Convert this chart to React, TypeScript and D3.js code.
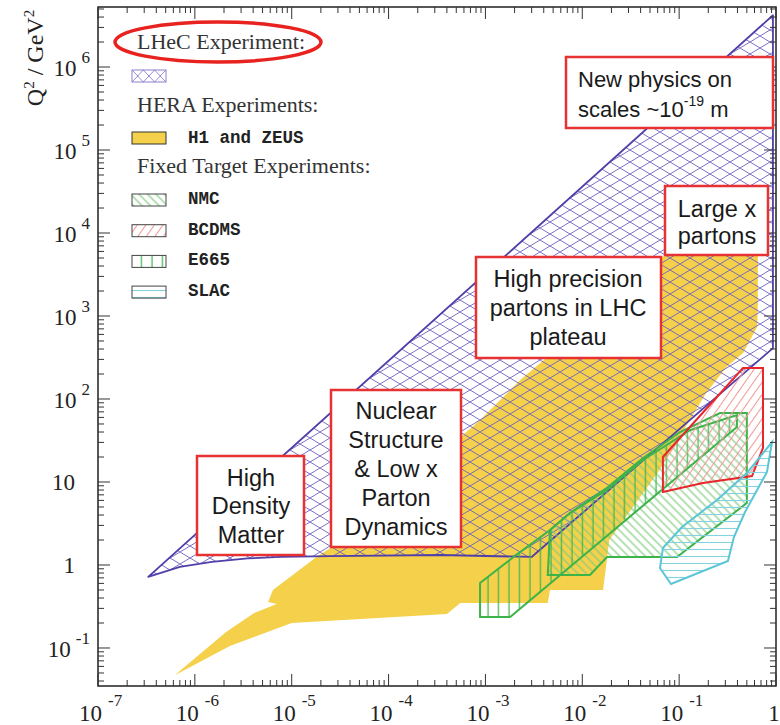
import React from "react";
import * as d3 from "d3";

const width = 780;
const height = 725;
const frame = { left: 98, right: 776, top: 7, bottom: 686 };

// kinematic regions: Bjorken x and Q^2 / GeV^2
const lhecX = [3.3e-7, 0.93, 0.93, 3.0e-3, 3.4e-4, 2.5e-5, 7.6e-6, 3.5e-6, 1.5e-6, 7.0e-7];
const lhecQ2 = [0.72, 4.2e6, 410, 1.25, 1.32, 1.28, 1.25, 1.2, 1.09, 0.95];

const heraX = [
  6.2e-7, 2.1e-6, 4.1e-6, 7.0e-6, 5.7e-6, 6.4e-6, 1.8e-5, 2.5e-5, 1.3e-4, 8.8e-4, 2.3e-3,
  1.5e-2, 7.7e-2, 0.65, 0.65, 0.64, 0.46, 0.31, 0.19, 6.3e-2, 1.9e-2, 1.64e-2, 4.65e-3,
  4.4e-3, 5.5e-4, 4.0e-4, 1.0e-5, 2.3e-6,
];
const heraQ2 = [
  0.047, 0.156, 0.264, 0.34, 0.358, 0.5, 1.25, 1.6, 8.0, 56, 170, 1090, 5900, 5900, 1430,
  740, 360, 245, 118, 14, 2.0, 0.5, 0.5, 0.348, 0.348, 0.257, 0.2, 0.106,
];

const nmcX = [4.65e-3, 4.4e-3, 1.2e-2, 1.8e-2, 9.5e-2, 0.5, 0.5, 0.264, 0.102, 4.24e-2, 1.8e-2, 7.46e-3];
const nmcQ2 = [2.64, 0.758, 0.758, 1.25, 1.25, 5.58, 67.8, 67.8, 40, 19.5, 8.5, 4.23];

const e665X = [8.8e-4, 8.8e-4, 1.8e-3, 0.395, 0.395, 0.129, 4.24e-2, 1.8e-2, 7.46e-3, 4.65e-3, 1.88e-3];
const e665Q2 = [0.607, 0.236, 0.236, 46, 64, 42, 18.4, 8.0, 4.23, 2.64, 1.21];

const bcdmsX = [6.8e-2, 0.456, 0.734, 0.734, 0.565, 0.176, 6.8e-2];
const bcdmsQ2 = [20, 236, 236, 25.7, 11.8, 9.7, 7.6];

const slacX = [0.91, 0.807, 0.479, 0.368, 0.319, 8.24e-2, 6.34e-2, 6.8e-2, 0.107, 0.246, 0.5];
const slacQ2 = [30.3, 13.2, 4.35, 2.17, 1.12, 0.59, 0.92, 1.6, 2.87, 6.07, 12.8];

const xTickExps = [-7, -6, -5, -4, -3, -2, -1, 0];
const yTickExps = [-1, 0, 1, 2, 3, 4, 5, 6];

const legendHeaders = ["LHeC Experiment:", "HERA Experiments:", "Fixed Target Experiments:"];
const heraName = "H1 and ZEUS";
const fixedNames = ["NMC", "BCDMS", "E665", "SLAC"];
const fixedFills = ["url(#hNmc)", "url(#hBcdms)", "url(#hE665)", "url(#hSlac)"];

const sans = "'Liberation Sans', Arial, sans-serif";
const serif = "'Liberation Serif', 'Times New Roman', serif";
const mono = "'Liberation Mono', 'Courier New', monospace";

type Seg = { t: string; sup?: boolean };
const boxes: { x0: number; y0: number; x1: number; y1: number; tx: number; anchor: string; size: number; base: number[]; lines: Seg[][] }[] = [
  { x0: 566, y0: 57, x1: 773, y1: 128, tx: 578, anchor: "start", size: 22, base: [87, 117],
    lines: [[{ t: "New physics on" }], [{ t: "scales ~10" }, { t: "-19", sup: true }, { t: " m" }]] },
  { x0: 665, y0: 186, x1: 768, y1: 255, tx: 717, anchor: "middle", size: 23.5, base: [217, 244],
    lines: [[{ t: "Large x" }], [{ t: "partons" }]] },
  { x0: 476, y0: 257, x1: 661, y1: 358, tx: 568, anchor: "middle", size: 23.5, base: [287, 316, 345],
    lines: [[{ t: "High precision" }], [{ t: "partons in LHC" }], [{ t: "plateau" }]] },
  { x0: 331, y0: 390, x1: 461, y1: 547, tx: 396, anchor: "middle", size: 23.5, base: [419, 448, 477, 506, 535],
    lines: [[{ t: "Nuclear" }], [{ t: "Structure" }], [{ t: "& Low x" }], [{ t: "Parton" }], [{ t: "Dynamics" }]] },
  { x0: 197, y0: 456, x1: 304, y1: 555, tx: 251, anchor: "middle", size: 23.5, base: [486, 514, 543],
    lines: [[{ t: "High" }], [{ t: "Density" }], [{ t: "Matter" }]] },
];

export default function App() {
  const x = d3.scaleLog().domain([1e-7, 1]).range([frame.left, frame.right]);
  const y = d3.scaleLog().domain([10 ** -1.458, 10 ** 6.723]).range([frame.bottom, frame.top]);

  const line = d3.line<[number, number]>().x((d) => x(d[0])).y((d) => y(d[1]));
  const poly = (xs: number[], qs: number[]) => line(d3.zip(xs, qs) as [number, number][]) + "Z";

  const xMinor: number[] = [];
  xTickExps.forEach((e) => d3.range(2, 10).forEach((m) => { const v = m * 10 ** e; if (v < 1) xMinor.push(v); }));
  const [ylo, yhi] = y.domain();
  const yMinor: number[] = [];
  d3.range(-2, 7).forEach((e) => d3.range(2, 10).forEach((m) => { const v = m * 10 ** e; if (v > ylo && v < yhi) yMinor.push(v); }));

  const tickColor = "#333";

  return (
    <svg width={width} height={height} style={{ position: "absolute", left: 0, top: 0, background: "#fff" }}>
      <defs>
        <pattern id="hLhec" patternUnits="userSpaceOnUse" width={20} height={12}>
          <path d="M0,0L20,12M0,12L20,0" stroke="#6c60c0" strokeWidth={0.9} fill="none" />
        </pattern>
        <pattern id="hLhecSmall" patternUnits="userSpaceOnUse" width={11.3} height={12} x={132} y={70}>
          <path d="M0,0L11.3,12M0,12L11.3,0" stroke="#8a80d0" strokeWidth={0.9} fill="none" />
        </pattern>
        <pattern id="hNmc" patternUnits="userSpaceOnUse" width={6} height={6} patternTransform="rotate(-45)">
          <path d="M3,0V6" stroke="#82cc82" strokeWidth={1.2} />
        </pattern>
        <pattern id="hBcdms" patternUnits="userSpaceOnUse" width={7} height={7} patternTransform="rotate(35)">
          <path d="M3.5,0V7" stroke="#f29a9a" strokeWidth={1.1} />
        </pattern>
        <pattern id="hE665" patternUnits="userSpaceOnUse" width={10.5} height={10}>
          <path d="M5,0V10" stroke="#3db54a" strokeWidth={1.2} />
        </pattern>
        <pattern id="hSlac" patternUnits="userSpaceOnUse" width={10} height={7}>
          <path d="M0,3.5H10" stroke="#86d3e0" strokeWidth={1.1} />
        </pattern>
        <clipPath id="plotClip">
          <rect x={frame.left} y={frame.top} width={frame.right - frame.left} height={frame.bottom - frame.top} />
        </clipPath>
      </defs>

      <g clipPath="url(#plotClip)">
        <path d={poly(heraX, heraQ2)} fill="#f5d04a" />
        <path d={poly(lhecX, lhecQ2)} fill="url(#hLhec)" stroke="#4f3fa8" strokeWidth={1.8} strokeLinejoin="round" />
        <path d={poly(nmcX, nmcQ2)} fill="url(#hNmc)" stroke="#3db34a" strokeWidth={2} />
        <path d={poly(e665X, e665Q2)} fill="url(#hE665)" stroke="#3db34a" strokeWidth={2} />
        <path d={poly(bcdmsX, bcdmsQ2)} fill="url(#hBcdms)" stroke="#e8262b" strokeWidth={2} />
        <path d={poly(slacX, slacQ2)} fill="url(#hSlac)" stroke="#5cc5d6" strokeWidth={2} />
      </g>

      {/* frame and ticks */}
      <rect x={frame.left} y={frame.top} width={frame.right - frame.left} height={frame.bottom - frame.top}
        fill="none" stroke="#111" strokeWidth={1.4} />
      <g stroke={tickColor} strokeWidth={1}>
        {xTickExps.map((e) => (
          <g key={"xm" + e}>
            <line x1={x(10 ** e)} x2={x(10 ** e)} y1={frame.bottom} y2={frame.bottom - 12} />
            <line x1={x(10 ** e)} x2={x(10 ** e)} y1={frame.top} y2={frame.top + 12} />
          </g>
        ))}
        {xMinor.map((v, i) => (
          <g key={"xn" + i}>
            <line x1={x(v)} x2={x(v)} y1={frame.bottom} y2={frame.bottom - 6} />
            <line x1={x(v)} x2={x(v)} y1={frame.top} y2={frame.top + 6} />
          </g>
        ))}
        {yTickExps.map((e) => (
          <g key={"ym" + e}>
            <line y1={y(10 ** e)} y2={y(10 ** e)} x1={frame.left} x2={frame.left + 12} />
            <line y1={y(10 ** e)} y2={y(10 ** e)} x1={frame.right} x2={frame.right - 12} />
          </g>
        ))}
        {yMinor.map((v, i) => (
          <g key={"yn" + i}>
            <line y1={y(v)} y2={y(v)} x1={frame.left} x2={frame.left + 6} />
            <line y1={y(v)} y2={y(v)} x1={frame.right} x2={frame.right - 6} />
          </g>
        ))}
      </g>

      {/* tick labels */}
      <g fontFamily={serif} fill="#222">
        {xTickExps.map((e) =>
          e === 0 ? (
            <text key={"xl" + e} x={x(1) - 2} y={721} fontSize={23} textAnchor="middle">1</text>
          ) : (
            <text key={"xl" + e} x={x(10 ** e) - 19} y={721} fontSize={23}>
              10<tspan dx={6} dy={-15} fontSize={17}>{e}</tspan>
            </text>
          )
        )}
        {yTickExps.map((e) =>
          e === 0 || e === 1 ? (
            <text key={"yl" + e} x={75} y={y(10 ** e) + 8} fontSize={23} textAnchor="end">{e === 0 ? "1" : "10"}</text>
          ) : (
            <text key={"ye" + e} x={90} y={y(10 ** e) + 9} fontSize={23} textAnchor="end">
              10<tspan dx={5} dy={-13} fontSize={17}>{e}</tspan>
            </text>
          )
        )}
        <text transform="translate(43,58) rotate(-90)" fontSize={24} textAnchor="middle">
          Q<tspan dy={-9} fontSize={15}>2</tspan><tspan dy={9}> / GeV</tspan><tspan dy={-9} fontSize={15}>2</tspan>
        </text>
      </g>

      {/* legend */}
      <g fontFamily={serif} fontSize={22} fill="#333">
        <text x={137} y={49}>{legendHeaders[0]}</text>
        <text x={137} y={112}>{legendHeaders[1]}</text>
        <text x={137} y={173}>{legendHeaders[2]}</text>
      </g>
      <rect x={132} y={70} width={34} height={12} fill="url(#hLhecSmall)" stroke="#8a80d0" strokeWidth={1} />
      <rect x={132} y={132} width={34} height={12} fill="#f5d04a" stroke="#333" strokeWidth={1} />
      <text x={188} y={143} fontFamily={mono} fontWeight="bold" fontSize={17.5} fill="#222">{heraName}</text>
      {fixedNames.map((n, i) => (
        <g key={n}>
          <rect x={132} y={194 + i * 30.7} width={34} height={12} fill={fixedFills[i]} stroke="#444" strokeWidth={1} />
          <text x={188} y={204 + i * 30.7} fontFamily={mono} fontWeight="bold" fontSize={17.5} fill="#222">{n}</text>
        </g>
      ))}
      <ellipse cx={218} cy={42} rx={103} ry={20} fill="none" stroke="#e8221f" strokeWidth={3.5} />

      {/* annotation boxes */}
      {boxes.map((b, i) => (
        <g key={"box" + i}>
          <rect x={b.x0} y={b.y0} width={b.x1 - b.x0} height={b.y1 - b.y0} fill="#fff" stroke="#e63232" strokeWidth={2.5} />
          {b.lines.map((segs, j) => (
            <text key={j} x={b.tx} y={b.base[j]} textAnchor={b.anchor} fontFamily={sans} fontSize={b.size} fill="#1a1a1a">
              {segs.map((s, k) =>
                s.sup ? (
                  <tspan key={k} dy={-11} fontSize={14}>{s.t}</tspan>
                ) : (
                  <tspan key={k} dy={k > 0 && segs[k - 1].sup ? 11 : 0}>{s.t}</tspan>
                )
              )}
            </text>
          ))}
        </g>
      ))}
    </svg>
  );
}
